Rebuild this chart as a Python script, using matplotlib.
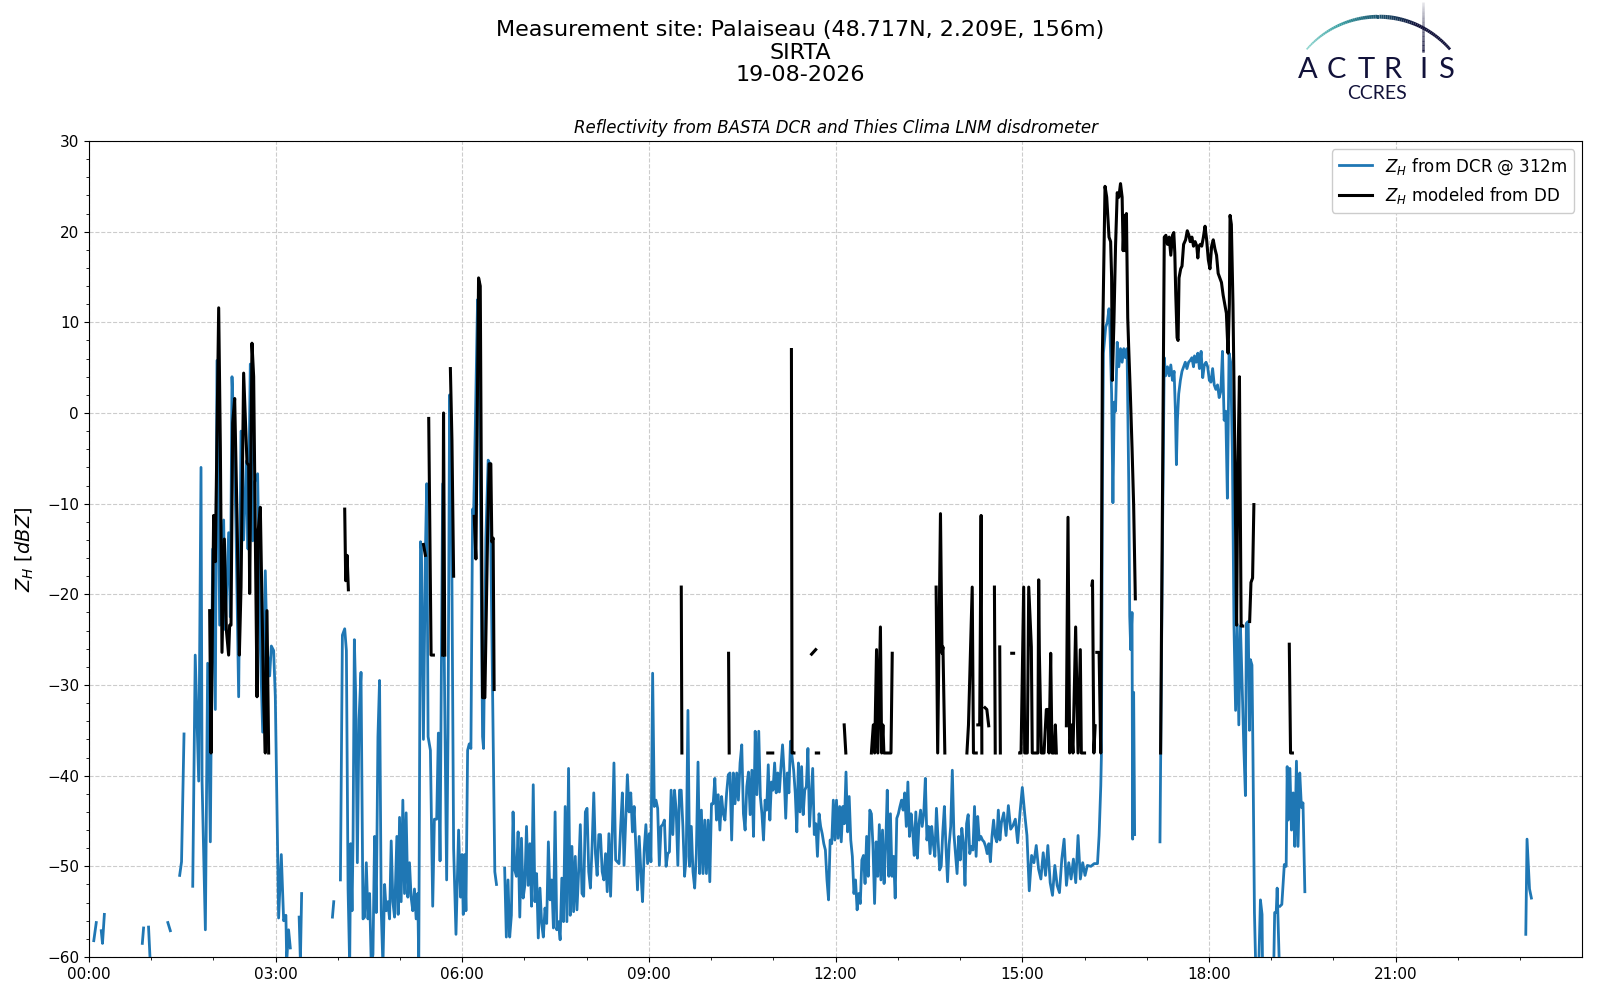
import numpy as np
import pandas as pd
import matplotlib
matplotlib.use("Agg")
import matplotlib.pyplot as plt
import matplotlib.dates as mdates
from matplotlib.collections import LineCollection
from matplotlib.colors import LinearSegmentedColormap

nan = np.nan
DAY = pd.Timestamp("2026-08-19")

# ---------------- data (hours since 00:00, dBZ) ----------------
# DCR reflectivity, irregular early part
blue_hours_a = [0.08, 0.12, nan, 0.20, 0.22, 0.25, nan, 0.86, 0.88, nan, 0.96, 0.99, nan,
                1.27, 1.31, nan, 1.46, 1.49, 1.53, nan,
                1.67, 1.71, 1.74, 1.766, 1.803, 1.82, 1.873, 1.91, 1.953, 1.99, 2.033, 2.06, 2.103,
                2.167, 2.194, 2.247, 2.274, 2.301, 2.328, 2.365, 2.408, 2.446, 2.488, 2.531, 2.558,
                2.595, 2.633, 2.665, 2.713, 2.756, 2.794, 2.836, 2.863, 2.906, 2.933, 2.97, 2.997,
                3.05, 3.093, 3.131, 3.167, 3.18, 3.21, 3.238, nan, 3.38, 3.40, 3.42, nan,
                3.915, 3.936, nan,
                4.043, 4.075, 4.112, 4.139, 4.166, 4.192, 4.208, 4.23, 4.246, 4.267, 4.288, 4.315,
                4.342, 4.374, 4.406, 4.432, 4.459, 4.486, 4.512, 4.539, 4.566, 4.592, 4.619, 4.646,
                4.672, 4.699, 4.726, 4.753, 4.779, 4.806, 4.833, 4.859, 4.886, 4.913, 4.95, 4.971,
                4.993, 5.019, 5.046, 5.073, 5.099, 5.126, 5.153, 5.179, 5.206, 5.233, 5.26, 5.286,
                5.302, 5.33, 5.345, 5.377, 5.409, 5.43, 5.452, 5.489, 5.526, 5.553, 5.59, 5.617,
                5.644, 5.686, 5.718, 5.75, 5.772, 5.798, 5.83, 5.862, 5.9, 5.942, 5.974, 5.996,
                6.017, 6.039, 6.06, 6.087, 6.113, 6.14, 6.167, 6.183, 6.209, 6.247, 6.273, 6.3,
                6.327, 6.343, 6.38, 6.417, 6.444, 6.471, 6.497, 6.524, 6.551, nan]
blue_dbz_a = [-58.2, -56.2, nan, -57.1, -58.5, -55.3, nan, -58.5, -56.8, nan, -56.7, -61, nan,
              -56.2, -57.1, nan, -51, -49.5, -35.4, nan,
              -52.2, -26.7, -34, -40.6, -6, -40.6, -57, -27.6, -47.3, -15, -32.7, 5.8, -23.4,
              -11.8, -23.9, -13.2, -22.5, 4.0, -1.1, -12.7, -31.3, -2, -14, -5.3, -15,
              5.4, -14.1, -7.6, -6.7, -25.7, -35.2, -17.4, -26, -29, -25.7, -26.2, -31.3,
              -55.7, -48.7, -56, -55.4, -60.5, -57, -59, nan, -55.6, -60.5, -53, nan,
              -55.6, -53.9, nan,
              -51.5, -24.5, -23.8, -26.2, -52.5, -61, -47.5, -54.9, -47.2, -25, -31, -49.6,
              -33.8, -28.6, -55.8, -55.6, -49.6, -55.8, -53, -61, -59.7, -46.7, -55.1, -35.7,
              -29.5, -54.9, -61, -52, -54.9, -53.9, -55.8, -47.2, -53.9, -55.6, -46.7, -55.3,
              -44.6, -53.9, -42.7, -53, -44.1, -53.4, -49.6, -53.4, -54.9, -52.5, -55.8, -53,
              -61, -14.2, -15, -36, -15.2, -7.8, -35.7, -37.2, -54.4, -44.8, -44.8, -35.3,
              -49.4, -7.8, -31.4, -51.5, -35.3, 2, -12.8, -48, -57.5, -46, -53.4, -48.7,
              -55.3, -48.7, -54.9, -37.2, -36.5, -37, -10.6, -11.4, -2, 12.5, 7.3, -13.8,
              -35.7, -37, -13.8, -5.2, -5.6, -21.4, -35.7, -50.6, -52, nan]

# DCR reflectivity, regularly sampled noisy stretches (start hour, end hour, values)
blue_n1_span = (6.682, 10.735)
blue_n1_dbz = [-50.2, -57.8, -51.5, -57.8, -55.4, -44.0, -50.4, -51.1, -46.2, -55.6, -46.9, -53.5,
               -52.1, -45.6, -52.1, -47.5, -54.4, -41.0, -53.9, -50.8, -57.9, -52.4, -56.3, -57.8,
               -54.6, -56.3, -47.3, -53.7, -51.5, -56.8, -44.0, -57.0, -56.1, -58.1, -51.3, -56.1,
               -43.4, -56.1, -39.2, -55.4, -47.8, -55.0, -48.9, -54.8, -50.6, -45.4, -53.0, -53.3,
               -44.0, -43.6, -50.6, -52.4, -47.8, -41.9, -48.6, -51.0, -46.5, -46.5, -50.6, -51.5,
               -48.6, -52.8, -46.4, -53.3, -46.4, -38.6, -49.3, -49.5, -49.7, -45.6, -41.9, -49.9,
               -44.9, -39.9, -44.0, -41.9, -46.2, -43.4, -47.8, -52.6, -46.7, -50.6, -53.9, -48.2,
               -45.4, -49.7, -46.4, -49.5, -28.7, -43.4, -42.7, -43.6, -49.9, -45.6, -45.4, -44.9,
               -50.0, -48.6, -48.4, -41.6, -46.5, -41.6, -43.8, -49.9, -41.6, -41.6, -45.6, -51.1,
               -48.9, -32.8, -50.0, -45.6, -50.6, -52.4, -48.6, -38.5, -50.8, -43.8, -50.8, -44.9,
               -50.8, -44.9, -51.7, -43.1, -43.1, -40.3, -44.9, -42.1, -46.0, -42.3, -44.2, -44.9,
               -41.9, -39.9, -39.7, -47.1, -39.7, -43.1, -39.7, -42.7, -38.6, -36.6, -44.2, -46.0,
               -41.2, -39.6, -44.3, -39.4, -46.7, -35.1, -42.1]
blue_n2_span = (10.765, 14.64)
blue_n2_dbz = [-35.1, -42.3, -44.2, -47.1, -42.7, -43.8, -38.8, -44.9, -40.7, -41.6, -38.6, -41.9,
               -39.7, -41.8, -39.0, -36.6, -39.7, -44.7, -39.7, -41.9, -36.2, -37.9, -39.4, -41.9,
               -46.2, -38.6, -44.0, -39.0, -44.3, -41.6, -41.2, -37.0, -45.6, -42.3, -39.2, -46.5,
               -45.3, -48.9, -44.2, -45.6, -46.4, -47.5, -48.2, -51.5, -53.7, -47.1, -47.5, -42.7,
               -47.1, -42.7, -46.9, -43.4, -47.3, -43.4, -45.3, -39.6, -46.2, -42.3, -47.1, -48.9,
               -53.0, -51.5, -54.8, -53.0, -54.1, -49.3, -48.8, -51.9, -46.7, -51.1, -43.8, -44.2,
               -47.8, -54.1, -47.3, -51.1, -45.4, -51.5, -46.0, -51.9, -47.8, -41.6, -51.1, -44.2,
               -51.1, -48.9, -53.5, -44.7, -44.2, -43.4, -42.7, -43.8, -41.9, -45.6, -40.7, -46.7,
               -44.2, -46.0, -48.8, -44.0, -49.1, -45.3, -43.8, -45.6, -44.2, -40.3, -47.1, -45.6,
               -48.6, -45.6, -47.5, -48.9, -43.6, -46.9, -50.4, -50.0, -46.2, -43.4, -47.8, -51.7,
               -47.6, -45.6, -39.4, -46.4, -48.6, -50.8, -46.7, -49.3, -45.8, -47.5, -52.1, -45.3,
               -44.3, -48.6, -47.8, -48.2, -43.4, -48.9, -44.5, -47.1, -46.7, -47.1, -47.3, -47.8,
               -48.6, -47.5, -49.5, -46.7, -44.9, -46.7, -47.3, -43.8, -47.1]
blue_n3_span = (14.664, 16.045)
blue_n3_dbz = [-45.2, -44.1, -46.6, -43.3, -45.9, -45.5, -44.8, -47.4, -44.1, -41.3, -44.1, -46.6,
               -52.7, -48.8, -49.6, -47.7, -50.3, -51.4, -48.5, -51.0, -47.7, -51.8, -53.2, -49.9,
               -52.1, -52.9, -49.2, -47.0, -52.1, -49.6, -51.4, -49.2, -51.8, -46.6, -51.4, -49.6,
               -51.0, -49.9]

# DCR reflectivity, irregular late part
blue_hours_b = [16.102, 16.155, 16.208, 16.234, 16.261, 16.271, 16.287, 16.303, 16.34, 16.366,
                16.393, 16.409, 16.435, 16.456, 16.477, 16.498, 16.525, 16.551, 16.578, 16.604,
                16.631, 16.657, 16.683, 16.71, 16.726, 16.742, 16.763, 16.773, 16.789, 16.805, nan,
                17.212, 17.254, 17.281, 17.302, 17.333, 17.36, 17.386, 17.413, 17.439, 17.46,
                17.476, 17.492, 17.513, 17.54, 17.566, 17.592, 17.619, 17.645, 17.672, 17.698,
                17.725, 17.751, 17.767, 17.793, 17.82, 17.846, 17.873, 17.899, 17.925, 17.952,
                17.978, 18.005, 18.031, 18.058, 18.084, 18.11, 18.137, 18.163, 18.19, 18.216,
                18.243, 18.269, 18.295, 18.322, 18.348, 18.375, 18.401, 18.427, 18.453, 18.479,
                18.505, 18.53, 18.558, 18.585, 18.6, 18.63, 18.65, 18.665, 18.69, 18.705, 18.73,
                18.75, nan, 18.80, 18.81, 18.826, 18.852, 18.86, nan,
                19.04, 19.055, 19.08, 19.095, 19.13, nan,
                19.14, 19.17, 19.21, 19.24, 19.256, 19.272, 19.3, 19.325, 19.352, 19.378, 19.405,
                19.43, 19.458, 19.485, 19.51, 19.54, nan,
                23.09, 23.11, 23.15, 23.18]
blue_dbz_b = [-50.0, -49.7, -49.7, -46.6, -41.1, -37.7, -7.7, 6.6, 9.5, 10.0,
              11.5, 9.0, 2.1, -9.9, 1.2, 0.2, 7.8, 5.1, 7.1, 5.6,
              7.1, 6.1, 7.1, -7.7, -22.4, -26.1, -22.0, -47.0, -30.8, -46.5, nan,
              -47.3, -12.6, 6.1, 4.1, 5.1, 4.1, 5.3, 3.6, 4.6, 0.2,
              -5.7, -0.8, 2.1, 3.6, 4.6, 5.1, 5.6, 4.9, 5.6, 5.8,
              6.1, 5.1, 6.3, 5.6, 6.6, 4.9, 6.8, 3.9, 5.3, 5.6,
              5.1, 3.6, 3.4, 4.9, 3.1, 2.6, 3.1, 1.7, 2.4, 6.8,
              -0.8, 0.2, -9.4, 6.6, 5.6, -4.2, -23.4, -32.8, -23.3, -34.4,
              -23.5, -29.4, -36.6, -42.2, -23.2, -23.0, -35.0, -27.2, -27.8, -37.0, -55.1,
              -61, nan, -61, -58.1, -53.7, -55.3, -61, nan,
              -61, -55.1, -55.1, -52.4, -61, nan,
              -54.4, -54.2, -49.8, -50.0, -39.0, -44.9, -39.2, -46.0, -41.9, -47.8, -38.4,
              -47.8, -39.7, -43.5, -43.0, -52.8, nan,
              -57.5, -47.0, -52.5, -53.5]

# Reflectivity modeled from disdrometer
black_hours = [1.942, 1.964, 2.006, 2.033, 2.087, 2.114, 2.14, 2.178, 2.21, 2.247, 2.263, 2.285,
               2.312, 2.344, 2.381, 2.419, 2.446, 2.488, 2.515, 2.542, 2.569, 2.585, 2.622, 2.649,
               2.676, 2.703, 2.719, 2.756, 2.81, 2.836, 2.863, 2.89, nan,
               4.112, 4.128, 4.15, 4.171, nan, 5.377, 5.409, nan, 5.462, 5.50, 5.537, nan,
               5.686, 5.70, 5.72, nan, 5.81, 5.835, 5.862, nan,
               6.193, 6.22, 6.263, 6.29, 6.327, 6.364, 6.407, 6.433, 6.46, 6.476, 6.497, 6.513, nan,
               9.52, 9.53, nan, 10.28, 10.29, nan, 10.91, 10.99, nan, 11.29, 11.30, 11.33, nan,
               11.614, 11.68, nan, 11.69, 11.727, nan, 12.138, 12.164, nan,
               12.575, 12.606, 12.627, 12.658, 12.679, 12.72, 12.74, 12.76, 12.776, 12.89, 12.91, nan,
               13.615, 13.64, 13.685, 13.71, 13.725, 13.755, nan,
               14.11, 14.135, 14.195, 14.215, 14.26, nan, 14.285, 14.315, 14.338, 14.35, nan,
               14.40, 14.43, 14.46, nan, 14.552, 14.565, nan, 14.637, 14.647, nan,
               14.83, 14.86, nan,
               14.958, 14.98, 15.022, 15.038, 15.08, 15.103, 15.145, 15.16, 15.25, 15.263, 15.274,
               15.306, 15.349, 15.386, 15.413, 15.429, 15.456, 15.477, 15.51, 15.531, 15.547, nan,
               15.708, 15.734, 15.761, 15.788, 15.814, 15.857, 15.895, 15.932, 15.948, 16.0, nan,
               16.118, 16.128, 16.15, 16.17, nan,
               16.197, 16.234, 16.26, 16.287, 16.329, 16.356, 16.393, 16.419, 16.435, 16.446, 16.472,
               16.498, 16.525, 16.551, 16.578, 16.604, 16.62, 16.641, 16.657, 16.673, 16.694, 16.71,
               16.736, 16.763, 16.789, 16.816, nan,
               17.222, 17.254, 17.281, 17.307, 17.333, 17.36, 17.386, 17.413, 17.434, 17.45, 17.466,
               17.487, 17.503, 17.518, 17.545, 17.566, 17.592, 17.624, 17.651, 17.677, 17.698,
               17.725, 17.751, 17.777, 17.804, 17.82, 17.836, 17.862, 17.883, 17.91, 17.936,
               17.962, 17.989, 18.015, 18.042, 18.068, 18.095, 18.121, 18.147, 18.174, 18.2,
               18.227, 18.253, 18.279, 18.306, 18.327, 18.338, 18.359, 18.385, 18.412, 18.443,
               18.463, 18.489, 18.516, 18.542, nan,
               18.653, 18.674, 18.70, 18.721, nan, 19.29, 19.31, 19.34]
black_dbz = [-21.8, -37.5, -11.3, -16.4, 11.6, -3.9, -26.4, -13.9, -23.9, -26.7, -23.4, -23.4,
             -1.1, 1.6, -11.3, -26.7, -19.2, 4.4, -0.7, -5.5, -5.8, -19.9, 7.7, 4.0,
             -13.2, -31.3, -13.2, -10.4, -31.8, -37.5, -21.8, -37.5, nan,
             -10.6, -18.5, -15.7, -19.5, nan, -14.5, -15.7, nan, -0.6, -26.7, -26.7, nan,
             -26.7, 0.0, -26.7, nan, 4.9, -3.0, -18.0, nan,
             -11.4, -16.1, 14.9, 14.0, -31.4, -31.4, -13.8, -5.6, -5.6, -14.2, -13.8, -30.5, nan,
             -19.2, -37.5, nan, -26.5, -37.5, nan, -37.5, -37.5, nan, 7.0, -37.5, -37.5, nan,
             -26.6, -26.1, nan, -37.5, -37.5, nan, -34.4, -37.5, nan,
             -37.5, -34.4, -37.5, -26.1, -37.5, -23.6, -37.5, -34.4, -37.5, -37.5, -26.5, nan,
             -19.2, -37.5, -11.1, -26.5, -25.8, -37.5, nan,
             -37.5, -34.4, -19.2, -37.5, -37.5, nan, -34.4, -34.4, -11.3, -37.5, nan,
             -32.5, -32.7, -34.5, nan, -19.2, -37.5, nan, -25.8, -37.5, nan,
             -26.5, -26.5, nan,
             -37.5, -37.5, -19.2, -37.5, -37.5, -19.2, -25.8, -37.5, -37.5, -18.4, -26.5,
             -37.5, -37.5, -32.7, -32.7, -37.5, -26.5, -37.5, -37.5, -34.4, -37.5, nan,
             -34.5, -11.5, -37.5, -34.4, -37.5, -23.6, -37.5, -26.1, -37.5, -37.5, nan,
             -19.0, -18.5, -37.5, -34.5, nan,
             -26.4, -26.4, -37.5, 6.6, 25.0, 23.8, 19.4, 18.9, 15.0, 3.6, 10.0,
             18.4, 24.3, 23.8, 25.3, 23.8, 17.9, 21.8, 17.9, 22.0, 10.5, 7.1,
             2.1, -3.8, -10.2, -20.5, nan,
             -37.5, -7.7, 19.4, 19.6, 18.6, 19.4, 17.4, 19.6, 19.9, 17.7, 13.0,
             8.3, 8.0, 14.9, 15.9, 16.2, 18.6, 19.1, 20.1, 19.6, 18.9,
             19.4, 18.4, 18.9, 18.4, 17.1, 18.4, 18.6, 18.4, 19.4, 20.6,
             19.1, 16.9, 15.9, 18.4, 19.1, 18.1, 17.4, 15.4, 14.9, 14.4,
             13.0, 12.0, 11.0, 6.6, 12.0, 21.8, 20.8, 12.0, -2.8, -23.4,
             -6.4, 4.0, -23.5, -23.5, nan,
             -23.0, -18.7, -18.2, -10.1, nan, -25.5, -37.5, -37.5]

# ---------------- assemble series ----------------
def seg(span, vals):
    return list(np.linspace(span[0], span[1], len(vals))), list(vals)

h1, v1 = seg(blue_n1_span, blue_n1_dbz)
h2, v2 = seg(blue_n2_span, blue_n2_dbz)
h3, v3 = seg(blue_n3_span, blue_n3_dbz)
blue_h = np.array(blue_hours_a + h1 + h2 + h3 + blue_hours_b, dtype=float)
blue_v = np.array(blue_dbz_a + v1 + v2 + v3 + blue_dbz_b, dtype=float)
black_h = np.array(black_hours, dtype=float)
black_v = np.array(black_dbz, dtype=float)


def to_time(hours):
    out = []
    for h in hours:
        if np.isnan(h):
            out.append(pd.NaT)
        else:
            out.append(DAY + pd.Timedelta(hours=float(h)))
    return pd.Series(pd.to_datetime(out)).ffill().bfill()


blue_t = to_time(blue_h)
black_t = to_time(black_h)

# ---------------- figure ----------------
plt.rcParams['font.family'] = ['DejaVu Sans']
fig = plt.figure(figsize=(16, 10), dpi=100)
ax = fig.add_axes([0.0555, 0.043, 0.9335, 0.816])

ax.plot(blue_t, blue_v, color='#1f77b4', lw=2.0, label=r'$Z_H$ from DCR @ 312m', zorder=3)
ax.plot(black_t, black_v, color='black', lw=2.2, label=r'$Z_H$ modeled from DD', zorder=4)

ax.set_ylim(-60, 30)
ax.set_xlim(DAY, DAY + pd.Timedelta(hours=23, minutes=59, seconds=59))
ax.xaxis.set_major_locator(mdates.HourLocator(byhour=range(0, 24, 3)))
ax.xaxis.set_minor_locator(mdates.HourLocator(interval=1))
ax.xaxis.set_major_formatter(mdates.DateFormatter('%H:%M'))
ax.yaxis.set_major_locator(matplotlib.ticker.MultipleLocator(10))
ax.yaxis.set_minor_locator(matplotlib.ticker.MultipleLocator(2))
ax.tick_params(axis='both', which='major', labelsize=11)
ax.grid(True, which='major', linestyle='--', color='#cccccc', linewidth=0.8)
ax.set_axisbelow(True)

ax.set_ylabel(r'$Z_H$ [$dBZ$]', fontsize=14, labelpad=8)
ax.set_title('Reflectivity from BASTA DCR and Thies Clima LNM disdrometer',
             fontsize=12, style='italic', pad=6)
ax.legend(loc='upper right', fontsize=12, framealpha=1.0)

fig.text(0.5, 0.980, 'Measurement site: Palaiseau (48.717N, 2.209E, 156m)\nSIRTA\n19-08-2026',
         ha='center', va='top', fontsize=16, linespacing=1.17)

# ---------------- ACTRIS logo ----------------
W, H = 1600.0, 1000.0
navy = '#12123a'
cx, cy, R = 1378.35, H - 111.7, 95.0
ang = np.linspace(np.radians(139), np.radians(41), 80)
px = cx + R * np.cos(ang)
py = cy + R * np.sin(ang)
pts = np.column_stack([px / W, py / H]).reshape(-1, 1, 2)
segs = np.concatenate([pts[:-1], pts[1:]], axis=1)
cmap = LinearSegmentedColormap.from_list('actris', ['#8fd6cf', '#3aa0a3', '#1d5570', '#12123a', '#12123a'])
lw_arc = np.concatenate([np.linspace(1.2, 3.0, 45), np.linspace(3.0, 2.0, len(segs) - 45)])
lc = LineCollection(segs, cmap=cmap, linewidths=lw_arc, transform=fig.transFigure)
lc.set_array(np.linspace(0, 1, len(segs)))
fig.add_artist(lc)

vy = np.linspace(H - 52, H - 2, 40)
vpts = np.column_stack([np.full_like(vy, 1423.3) / W, vy / H]).reshape(-1, 1, 2)
vsegs = np.concatenate([vpts[:-1], vpts[1:]], axis=1)
vcols = [(0.07, 0.07, 0.23, a) for a in np.linspace(1.0, 0.1, len(vsegs))]
fig.add_artist(LineCollection(vsegs, colors=vcols, linewidths=1.8, transform=fig.transFigure))

letters = ['A', 'C', 'T', 'R', 'I', 'S']
letter_x = [1307.7, 1336.7, 1366.0, 1392.7, 1423.3, 1445.7]
for ch, lx in zip(letters, letter_x):
    fig.text(lx / W, 1 - 78.3 / H, ch, ha='center', va='baseline', fontsize=21,
             family='Lato', color=navy)
fig.text(1376.7 / W, 1 - 98.7 / H, 'CCRES', ha='center', va='baseline', fontsize=14,
         family='Lato', color=navy)

fig.savefig('out.png', dpi=100)
